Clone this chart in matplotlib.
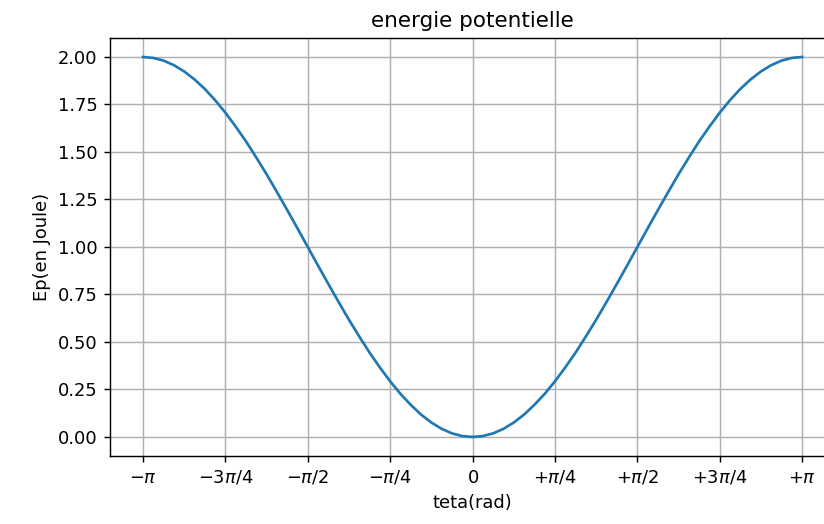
import matplotlib
matplotlib.use('Agg')
import matplotlib.pyplot as plt
import numpy as np

# angle samples, in units of pi (every pi/32, from -pi to +pi)
teta_pi = np.linspace(-1, 1, 65)
# potential energy
ep = [2.000, 1.995, 1.981, 1.957, 1.924, 1.882, 1.832, 1.773,
      1.707, 1.634, 1.556, 1.471, 1.383, 1.290, 1.195, 1.098,
      1.000, 0.902, 0.805, 0.710, 0.617, 0.529, 0.444, 0.366,
      0.293, 0.227, 0.169, 0.118, 0.076, 0.043, 0.019, 0.005,
      0.000,
      0.005, 0.019, 0.043, 0.076, 0.118, 0.169, 0.227, 0.293,
      0.366, 0.444, 0.529, 0.617, 0.710, 0.805, 0.902, 1.000,
      1.098, 1.195, 1.290, 1.383, 1.471, 1.556, 1.634, 1.707,
      1.773, 1.832, 1.882, 1.924, 1.957, 1.981, 1.995, 2.000]

tick_pi = [-1, -0.75, -0.5, -0.25, 0, 0.25, 0.5, 0.75, 1]
tick_labels = [r'$-\pi$', r'$-3\pi/4$', r'$-\pi/2$', r'$-\pi/4$', r'$0$',
               r'$+\pi/4$', r'$+\pi/2$', r'$+3\pi/4$', r'$+\pi$']

dpi = 129
fig = plt.figure(figsize=(824 / dpi, 524 / dpi), dpi=dpi)
ax = fig.add_axes([0.1335, 0.1298, 0.880, 0.7977])

ax.plot(teta_pi * np.pi, ep)
ax.set_xticks(np.array(tick_pi) * np.pi)
ax.set_xticklabels(tick_labels)
ax.grid(True)
ax.set_title('energie potentielle')
ax.set_xlabel('teta(rad)')
ax.set_ylabel('Ep(en Joule)')

fig.savefig('out.png', dpi=dpi)
